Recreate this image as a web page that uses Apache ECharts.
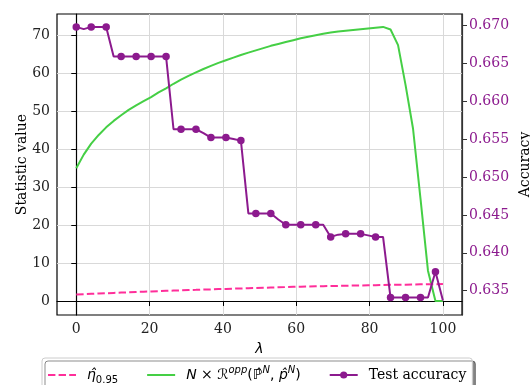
<!DOCTYPE html>
<html>
<head>
<meta charset="utf-8">
<script src="https://cdn.jsdelivr.net/npm/echarts@6/dist/echarts.min.js"></script>
<style>
html,body{margin:0;padding:0;background:#fff;}
#main{width:530px;height:385px;}
</style>
</head>
<body>
<div id="main"></div>
<script>
//横轴 lambda 取值
var lambdas=[0,2.04,4.08,6.12,8.16,10.20,12.24,14.29,16.33,18.37,
    20.41,22.45,24.49,26.53,28.57,30.61,32.65,34.69,36.73,38.78,
    40.82,42.86,44.90,46.94,48.98,51.02,53.06,55.10,57.14,59.18,
    61.22,63.27,65.31,67.35,69.39,71.43,73.47,75.51,77.55,79.59,
    81.63,83.67,85.71,87.76,89.80,91.84,93.88,95.92,97.96,100];

//eta 0.95 阈值
var eta=[1.70,1.80,1.89,1.97,2.05,2.13,2.21,2.29,2.37,2.45,
    2.53,2.60,2.67,2.74,2.80,2.87,2.93,3.00,3.06,3.13,
    3.19,3.25,3.31,3.37,3.43,3.49,3.55,3.60,3.66,3.72,
    3.77,3.81,3.86,3.90,3.94,3.98,4.02,4.06,4.10,4.14,
    4.18,4.21,4.25,4.28,4.31,4.35,4.38,4.41,4.44,4.47];

//N x R 统计量
var riskN=[35.0,38.6,41.5,43.8,45.8,47.5,49.0,50.4,51.6,52.7,
    53.8,55.0,56.1,57.3,58.4,59.4,60.3,61.2,62.0,62.8,
    63.5,64.2,64.9,65.5,66.1,66.7,67.3,67.8,68.3,68.8,
    69.3,69.7,70.1,70.5,70.8,71.1,71.3,71.5,71.7,71.9,
    72.1,72.3,71.6,67.5,57.0,45.5,27.0,8.0,0,0];

//测试准确率
var testAcc=[0.6698,0.6695,0.6698,0.6698,0.6698,0.6659,0.6659,0.6659,0.6659,0.6659,
    0.6659,0.6659,0.6659,0.6563,0.6563,0.6563,0.6563,0.6558,0.6552,0.6552,
    0.6552,0.6550,0.6548,0.6452,0.6452,0.6452,0.6452,0.6444,0.6437,0.6437,
    0.6437,0.6437,0.6437,0.6437,0.6421,0.6424,0.6425,0.6425,0.6425,0.6423,
    0.6421,0.6421,0.6341,0.6341,0.6341,0.6341,0.6341,0.6341,0.6375,0.6337];

//刻度
var xTicks=[0,20,40,60,80,100];
var yTicks=[0,10,20,30,40,50,60,70];
var accTicks=[0.635,0.640,0.645,0.650,0.655,0.660,0.665,0.670];

var pink='#ff2e9a',green='#45cf45',purple='#8c1a8e';
var serif='DejaVu Serif';

function pairs(ys,mark){
    var out=[];
    for(var i=0;i<lambdas.length;i++){
        if(mark){
            out.push({value:[lambdas[i],ys[i]],symbol:i%2==0?'circle':'none'});
        }else{
            out.push([lambdas[i],ys[i]]);
        }
    }
    return out;
}

var gridColor='#d9d9d9';
//图例里不画圆点
var noDot={color:'rgba(0,0,0,0)',borderWidth:0,opacity:0};
var myChart=echarts.init(document.getElementById('main'),null,{renderer:'canvas'});

option={
    backgroundColor:'#fff',
    animation:false,
    grid:{left:57,right:68,top:14,bottom:70,containLabel:false,outerBoundsMode:'none',
        show:true,borderColor:'#000',borderWidth:1.2,backgroundColor:'transparent'},
    xAxis:{
        type:'value',min:-5.25,max:105.2,
        name:'λ',nameLocation:'middle',nameGap:27,nameMoveOverlap:false,
        nameTextStyle:{fontFamily:'DejaVu Sans',fontStyle:'italic',fontSize:14,color:'#000'},
        axisLine:{show:true,lineStyle:{color:'#000',width:1.2}},
        axisTick:{show:true,length:5,lineStyle:{color:'#000'},customValues:xTicks},
        axisLabel:{fontFamily:serif,fontSize:14,color:'#222',margin:7,customValues:xTicks},
        splitLine:{show:true,lineStyle:{color:gridColor,width:1}}
    },
    yAxis:[{
        type:'value',min:-3.7,max:75.7,position:'left',
        name:'Statistic value',nameLocation:'middle',nameGap:28,nameRotate:90,nameMoveOverlap:false,
        nameTextStyle:{fontFamily:serif,fontSize:14,color:'#000'},
        axisLine:{show:true,lineStyle:{color:'#000',width:1.2}},
        axisTick:{show:true,length:5,lineStyle:{color:'#000'},customValues:yTicks},
        axisLabel:{fontFamily:serif,fontSize:14,color:'#222',margin:7,customValues:yTicks},
        splitLine:{show:true,lineStyle:{color:gridColor,width:1}}
    },{
        type:'value',min:0.6318,max:0.6715,position:'right',
        name:'Accuracy',nameLocation:'middle',nameGap:56,nameRotate:90,nameMoveOverlap:false,
        nameTextStyle:{fontFamily:serif,fontSize:14,color:'#000'},
        axisLine:{show:true,lineStyle:{color:'#333',width:1.2}},
        axisTick:{show:true,length:5,lineStyle:{color:'#333'},customValues:accTicks},
        axisLabel:{fontFamily:serif,fontSize:14,color:purple,margin:7,customValues:accTicks,
            formatter:function(v){return v.toFixed(3);}},
        splitLine:{show:false}
    }],
    legend:{
        left:42,top:358,orient:'horizontal',
        itemWidth:28,itemHeight:9,itemGap:28,
        padding:[7,6,7,5],
        borderColor:'#cccccc',borderWidth:1,borderRadius:3,
        backgroundColor:'#fff',
        shadowColor:'rgba(0,0,0,0.45)',shadowBlur:0,shadowOffsetX:3,shadowOffsetY:3,
        data:[{name:'eta',itemStyle:noDot},{name:'risk',itemStyle:noDot},{name:'Test accuracy'}],
        textStyle:{
            fontFamily:serif,fontSize:14,color:'#000',padding:[0,0,0,6],
            rich:{
                m:{fontFamily:'DejaVu Sans',fontStyle:'italic',fontSize:14,lineHeight:20,color:'#000'},
                t:{fontFamily:'DejaVu Sans',fontSize:14,lineHeight:20,color:'#000'},
                s:{fontFamily:'DejaVu Sans',fontSize:10,lineHeight:13,verticalAlign:'bottom',color:'#000'},
                sup:{fontFamily:'DejaVu Sans',fontStyle:'italic',fontSize:10,lineHeight:11,verticalAlign:'top',color:'#000'},
                tx:{fontFamily:serif,fontSize:14,lineHeight:20,color:'#000'}
            }
        },
        formatter:function(name){
            if(name=='eta') return '{m|η̂}{s|0.95}';
            if(name=='risk') return '{m|N}{t| × }{m|ℛ}{sup|opp}{t|(}{t|ℙ̂}{sup|N}{t|, }{m|p̂}{sup|N}{t|)}';
            return '{tx|'+name+'}';
        }
    },
    series:[{
        name:'eta',type:'line',yAxisIndex:0,symbol:'none',
        lineStyle:{color:pink,width:2,type:[7.4,3.2]},
        itemStyle:{color:pink},
        data:pairs(eta,false),z:3
    },{
        name:'risk',type:'line',yAxisIndex:0,symbol:'none',
        lineStyle:{color:green,width:2},
        itemStyle:{color:green},
        data:pairs(riskN,false),z:2
    },{
        name:'Test accuracy',type:'line',yAxisIndex:1,symbol:'circle',symbolSize:7.5,
        lineStyle:{color:purple,width:2},
        itemStyle:{color:purple},
        data:pairs(testAcc,true),z:4
    }]
};
myChart.setOption(option);
</script>
</body>
</html>
